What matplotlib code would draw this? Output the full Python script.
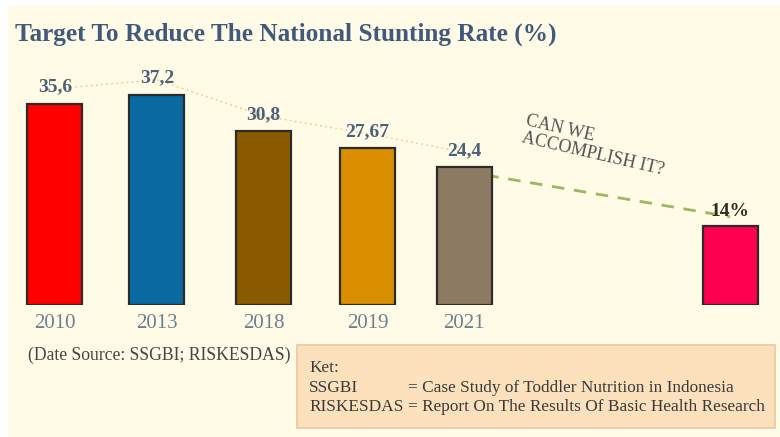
import matplotlib.pyplot as plt
from matplotlib.patches import FancyBboxPatch

# Data
years = ['2010', '2013', '2018', '2019', '2021']
rates = [35.6, 37.2, 30.8, 27.67, 24.4]
rate_labels = ['35,6', '37,2', '30,8', '27,67', '24,4']
target = 14
target_label = '14%'

bar_colors = ['#ff0000', '#0a69a0', '#8a5a00', '#d98f00', '#8c7b62']
target_color = '#ff0050'
positions = [0, 1, 2.05, 3.07, 4.02]
target_pos = 6.63

plt.rcParams['font.family'] = ['Liberation Serif', 'DejaVu Serif']
bg = '#fffbe6'

fig = plt.figure(figsize=(7.8, 4.37), dpi=100, facecolor='white')
# cream panel with a thin white margin at left and top
fig.patches.append(plt.Rectangle((8 / 780, 0), 1, 1 - 6 / 437,
                                 transform=fig.transFigure, color=bg, zorder=-10))

ax = fig.add_axes([0, 1 - 305 / 437, 1, 275 / 437])
ax.set_facecolor('none')
ax.set_xlim(-0.54, 7.12)
ax.set_ylim(0, 48.6)
ax.axis('off')

w = 0.54
ax.bar(positions, rates, width=w, color=bar_colors, edgecolor='#2b2b2b', linewidth=1.6, zorder=3)
ax.bar([target_pos], [target], width=w, color=target_color, edgecolor='#2b2b2b', linewidth=1.6, zorder=3)

# dotted trend line over the bars
ax.plot(positions, [r + 2.6 for r in rates], ls=(0, (1.2, 2.5)), color='#f4c284', lw=1.0, zorder=2)
# dashed projection to the target
ax.plot([positions[-1], target_pos], [rates[-1] - 0.8, target + 1.6], ls=(0, (4.5, 3.5)),
        color='#9cb860', lw=2, zorder=2)

for x, v, lab in zip(positions, rates, rate_labels):
    ax.text(x, v + 1.4, lab, ha='center', va='bottom', fontsize=14, fontweight='bold',
            color='#4b6179')
ax.text(target_pos, target + 1.0, target_label, ha='center', va='bottom', fontsize=14,
        fontweight='bold', color='#2f2f1f')

for x, y in zip(positions, years):
    ax.text(x, -1.6, y, ha='center', va='top', fontsize=15, color='#6b7f93')

fig.text(15 / 780, 1 - 34 / 437, 'Target To Reduce The National Stunting Rate (%)',
         fontsize=18.2, fontweight='bold', color='#3f5a7c', va='center', ha='left')

fig.text(528 / 780, 1 - 112 / 437, 'CAN WE\nACCOMPLISH IT?', fontsize=13, color='#555555',
         rotation=-13, ha='left', va='top', linespacing=1.05, rotation_mode='anchor',
         multialignment='left')

fig.text(28 / 780, 1 - 355 / 437, '(Date Source: SSGBI; RISKESDAS)', fontsize=12.7,
         color='#444444', va='center')

box = FancyBboxPatch((297 / 780, 1 - 428 / 437), 478 / 780, 83 / 437,
                     boxstyle='square,pad=0', transform=fig.transFigure,
                     facecolor='#fde0bc', edgecolor='#f0c69a', lw=1.2)
fig.patches.append(box)
txt_kw = dict(fontsize=12.4, color='#3a3a3a', va='center')
fig.text(309 / 780, 1 - 368 / 437, 'Ket:', **txt_kw)
fig.text(309 / 780, 1 - 388 / 437, 'SSGBI', **txt_kw)
fig.text(309 / 780, 1 - 407 / 437, 'RISKESDAS', **txt_kw)
fig.text(408 / 780, 1 - 388 / 437, '= Case Study of Toddler Nutrition in Indonesia', **txt_kw)
fig.text(408 / 780, 1 - 407 / 437, '= Report On The Results Of Basic Health Research', **txt_kw)

fig.savefig('out.png', dpi=100, facecolor='white')
